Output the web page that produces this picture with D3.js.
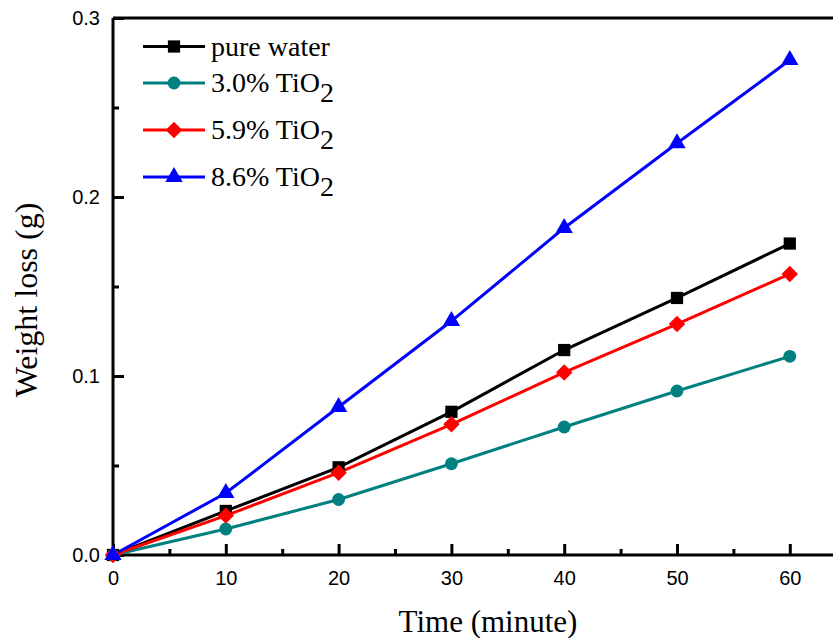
<!DOCTYPE html>
<html>
<head>
<meta charset="utf-8">
<script src="https://cdn.jsdelivr.net/npm/d3@7"></script>
<style>
  body { margin: 0; background: #fff; }
  svg { display: block; }
  .tick text { font-family: "Liberation Sans", Arial, sans-serif; font-size: 20px; fill: #000; }
</style>
</head>
<body>
<svg id="chart" width="833" height="638"></svg>
<script>
const times = [0, 10, 20, 30, 40, 50, 60];
const pureWater = [0, 0.0246, 0.049, 0.080, 0.1145, 0.1436, 0.174];
const tio2_30 = [0, 0.0145, 0.031, 0.051, 0.0715, 0.0916, 0.111];
const tio2_59 = [0, 0.022, 0.046, 0.073, 0.102, 0.129, 0.157];
const tio2_86 = [0, 0.0346, 0.0827, 0.1307, 0.1827, 0.230, 0.2765];
const seriesNames = ['pure water', '3.0% TiO', '5.9% TiO', '8.6% TiO'];
const xTicks = [0, 10, 20, 30, 40, 50, 60];
const yTicks = [0.0, 0.1, 0.2, 0.3];

// diamond = square turned 45 degrees (Origin style, not d3's tall diamond)
const series = [
  { name: seriesNames[0], sub: '',  values: pureWater, color: '#000000', symbol: d3.symbolSquare,   size: 150, rot: 0 },
  { name: seriesNames[1], sub: '2', values: tio2_30,   color: '#008080', symbol: d3.symbolCircle,   size: 130, rot: 0 },
  { name: seriesNames[2], sub: '2', values: tio2_59,   color: '#ff0000', symbol: d3.symbolSquare,   size: 135, rot: 45 },
  { name: seriesNames[3], sub: '2', values: tio2_86,   color: '#0000ff', symbol: d3.symbolTriangle, size: 130, rot: 0 }
];

const svg = d3.select('#chart');
const m = { left: 113, top: 18, bottom: 555 };
const serif = '"Liberation Serif", "Times New Roman", serif';

const x = d3.scaleLinear().domain([0, 66]).range([m.left, m.left + 66 * 11.28]);
const y = d3.scaleLinear().domain([0, 0.3]).range([m.bottom, m.top]);

// frame (right side runs off the picture)
svg.append('line').attr('x1', m.left).attr('x2', 900).attr('y1', m.top).attr('y2', m.top)
  .attr('stroke', '#000').attr('stroke-width', 3);

// minor ticks
const xMinor = d3.range(5, 66, 10);
const yMinor = [0.05, 0.15, 0.25];

svg.append('g').attr('transform', `translate(0,${m.bottom})`)
  .call(d3.axisBottom(x).tickValues(xMinor).tickSize(-6).tickFormat(''))
  .call(ax => { ax.select('.domain').remove(); ax.selectAll('line').attr('stroke-width', 3); });
svg.append('g').attr('transform', `translate(${m.left},0)`)
  .call(d3.axisLeft(y).tickValues(yMinor).tickSize(-6).tickFormat(''))
  .call(ax => { ax.select('.domain').remove(); ax.selectAll('line').attr('stroke-width', 3); });

// x axis
svg.append('g').attr('transform', `translate(0,${m.bottom})`)
  .call(d3.axisBottom(x).tickValues(xTicks).tickSizeInner(-11).tickSizeOuter(0).tickPadding(16))
  .call(ax => {
    ax.select('.domain').attr('d', `M${m.left},0H900`).attr('stroke-width', 3);
    ax.selectAll('.tick line').attr('stroke-width', 3);
  });

// y axis
svg.append('g').attr('transform', `translate(${m.left},0)`)
  .call(d3.axisLeft(y).tickValues(yTicks).tickFormat(d3.format('.1f')).tickSizeInner(-11).tickSizeOuter(0).tickPadding(13))
  .call(ax => {
    ax.select('.domain').attr('d', `M0,${m.top}V${m.bottom}`).attr('stroke-width', 3);
    ax.selectAll('.tick line').attr('stroke-width', 3);
  });

// axis titles
svg.append('text')
  .attr('x', 488).attr('y', 632)
  .attr('text-anchor', 'middle')
  .style('font-family', serif)
  .style('font-size', '31px')
  .text('Time (minute)');

svg.append('text')
  .attr('transform', 'translate(37,300) rotate(-90)')
  .attr('text-anchor', 'middle')
  .style('font-family', serif)
  .style('font-size', '32px')
  .text('Weight loss (g)');

// lines + markers
const line = d3.line().x((d, i) => x(times[i])).y(d => y(d));

series.forEach(s => {
  svg.append('path')
    .datum(s.values)
    .attr('d', line)
    .attr('fill', 'none')
    .attr('stroke', s.color)
    .attr('stroke-width', 3);
});

series.forEach(s => {
  svg.append('g').selectAll('path')
    .data(s.values)
    .join('path')
      .attr('transform', (d, i) => `translate(${x(times[i])},${y(d)}) rotate(${s.rot})`)
      .attr('d', d3.symbol().type(s.symbol).size(s.size))
      .attr('fill', s.color);
});

// legend
const legendRows = [46.5, 83, 130, 177];
const lg = svg.append('g');
series.forEach((s, i) => {
  const ly = legendRows[i];
  lg.append('line')
    .attr('x1', 143).attr('x2', 205).attr('y1', ly).attr('y2', ly)
    .attr('stroke', s.color).attr('stroke-width', 3);
  lg.append('path')
    .attr('transform', `translate(174,${ly}) rotate(${s.rot})`)
    .attr('d', d3.symbol().type(s.symbol).size(s.size))
    .attr('fill', s.color);
  const t = lg.append('text')
    .attr('x', 211).attr('y', ly + 9)
    .style('font-family', serif)
    .style('font-size', '28px')
    .text(s.name);
  if (s.sub) {
    t.append('tspan').attr('dy', 10).text(s.sub);
  }
});
</script>
</body>
</html>
